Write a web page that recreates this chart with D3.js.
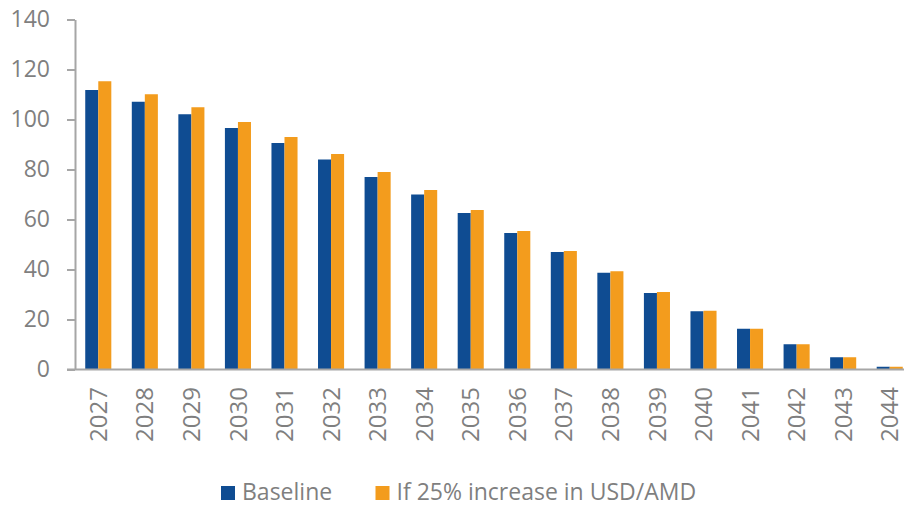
<!DOCTYPE html>
<head>
  <meta charset="utf-8">
  <script src="https://d3js.org/d3.v7.min.js"></script>
  <style>
    body { margin:0; background:#fff; }
    text { font-family: "Open Sans", sans-serif; fill:#7f7f7f; }
  </style>
</head>
<body>
<script>
const years = ["2027","2028","2029","2030","2031","2032","2033","2034","2035",
               "2036","2037","2038","2039","2040","2041","2042","2043","2044"];
const baseline = [111.8,107.1,102.1,96.6,90.6,84.0,77.0,70.0,62.6,
                  54.6,47.0,38.7,30.6,23.3,16.3,10.1,4.9,1.1];
const increase = [115.3,110.1,104.9,99.0,93.0,86.2,79.0,71.8,63.8,
                  55.4,47.4,39.3,31.0,23.5,16.3,10.1,4.9,1.1];
const seriesNames = ["Baseline", "If 25% increase in USD/AMD"];
const colors = ["#0f4c92", "#f39c1d"];
const yTicks = [0,20,40,60,80,100,120,140];

const width = 904, height = 507;

const svg = d3.select('body').append('svg')
    .attr('width', width)
    .attr('height', height);

const x = d3.scaleBand()
    .domain(years)
    .range([75, 913])
    .paddingInner(0.44)
    .paddingOuter(0.22);

const xs = d3.scaleBand()
    .domain([0, 1])
    .range([0, x.bandwidth()]);

const y = d3.scaleLinear()
    .domain([0, 140])
    .range([369.5, 19.5]);

// bars
const data = years.map((yr, i) => ({ year: yr, vals: [baseline[i], increase[i]] }));

const groups = svg.selectAll('g.year')
    .data(data)
    .enter().append('g')
    .attr('class', 'year')
    .attr('transform', d => `translate(${x(d.year)},0)`);

groups.selectAll('rect')
    .data(d => d.vals)
    .enter().append('rect')
    .attr('x', (d, i) => xs(i))
    .attr('width', xs.bandwidth())
    .attr('y', d => y(d))
    .attr('height', d => y(0) - y(d))
    .attr('fill', (d, i) => colors[i]);

// y axis
const yAxis = svg.append('g')
    .attr('transform', 'translate(75,0)')
    .call(d3.axisLeft(y).tickValues(yTicks).tickSize(8).tickPadding(17).tickSizeOuter(0));
yAxis.select('.domain').attr('stroke', '#a6a6a6').attr('stroke-width', 2);
yAxis.selectAll('.tick line').attr('stroke', '#a6a6a6').attr('stroke-width', 2);
yAxis.selectAll('.tick text')
    .style('font-size', '23px')
    .attr('fill', '#7f7f7f');

// x axis line
svg.append('line')
    .attr('x1', 67).attr('x2', width)
    .attr('y1', y(0)).attr('y2', y(0))
    .attr('stroke', '#a6a6a6')
    .attr('stroke-width', 2);

// x labels
svg.selectAll('text.xlab')
    .data(years)
    .enter().append('text')
    .attr('class', 'xlab')
    .attr('transform', d => `translate(${x(d) + x.bandwidth() / 2},387) rotate(-90)`)
    .attr('text-anchor', 'end')
    .attr('dy', '0.36em')
    .style('font-size', '24px')
    .text(d => d);

// legend
const legendX = [221, 375.5];
const legend = svg.selectAll('g.legend')
    .data(seriesNames)
    .enter().append('g')
    .attr('class', 'legend')
    .attr('transform', (d, i) => `translate(${legendX[i]},485)`);
legend.append('rect')
    .attr('y', 1)
    .attr('width', 14).attr('height', 14)
    .attr('fill', (d, i) => colors[i]);
legend.append('text')
    .attr('x', 21)
    .attr('y', 15)
    .style('font-size', '23px')
    .text(d => d);
</script>
</body>
